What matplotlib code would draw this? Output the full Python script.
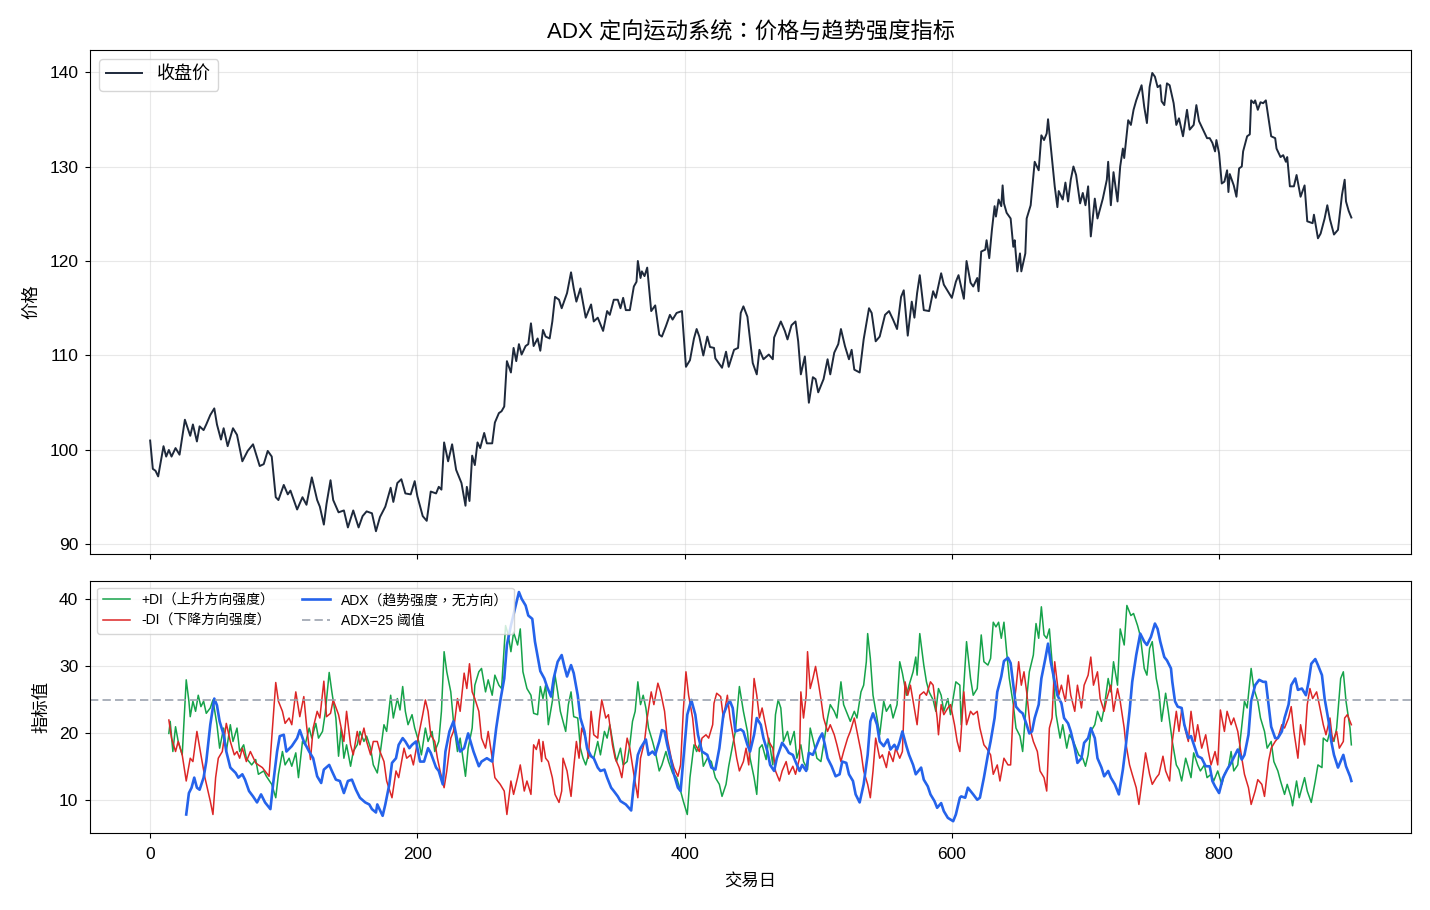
import matplotlib
matplotlib.use("Agg")
import matplotlib.pyplot as plt

plt.rcParams['font.family'] = ['Liberation Sans', 'Noto Sans CJK TC', 'DejaVu Sans']
plt.rcParams['axes.unicode_minus'] = False

# closing price (trading day, value)
price_days = [0, 2, 4, 6, 8, 10, 12, 14, 16, 19, 22, 26, 30, 32, 35, 37, 40, 42, 45, 48,
              50, 53, 55, 58, 62, 65, 69, 73, 77, 82, 85, 88, 91, 94, 96, 100, 103, 105, 110, 114,
              117, 121, 125, 127, 130, 132, 135, 137, 141, 145, 148, 152, 156, 159, 162, 166, 169, 172, 176, 180,
              182, 185, 188, 191, 195, 198, 200, 204, 207, 210, 214, 216, 218, 220, 223, 226, 229, 233, 236, 237,
              239, 241, 243, 245, 247, 250, 252, 256, 258, 261, 263, 265, 267, 270, 272, 274, 276, 278, 281, 283,
              285, 287, 290, 292, 294, 296, 299, 301, 303, 306, 308, 312, 315, 317, 319, 322, 326, 330, 332, 335,
              339, 342, 344, 347, 350, 352, 354, 356, 359, 362, 364, 365, 367, 368, 370, 372, 375, 378, 381, 383,
              386, 389, 391, 394, 398, 401, 404, 407, 409, 411, 414, 417, 419, 422, 423, 428, 431, 433, 437, 440,
              442, 444, 447, 451, 454, 456, 459, 463, 466, 467, 472, 475, 477, 480, 483, 485, 487, 490, 493, 496,
              498, 500, 504, 507, 509, 512, 515, 517, 520, 523, 525, 527, 531, 534, 538, 540, 543, 546, 550, 553,
              556, 559, 562, 564, 567, 570, 572, 574, 576, 579, 583, 586, 588, 592, 594, 597, 600, 603, 605, 609,
              611, 614, 616, 619, 620, 622, 625, 626, 628, 630, 632, 633, 635, 637, 638, 639, 641, 644, 646, 647,
              649, 651, 652, 655, 656, 659, 662, 665, 667, 669, 671, 672, 675, 677, 679, 680, 683, 685, 687, 689,
              691, 693, 696, 698, 700, 702, 704, 707, 709, 713, 716, 717, 719, 721, 724, 726, 728, 729, 732, 734,
              736, 738, 742, 744, 746, 748, 750, 752, 754, 756, 757, 759, 761, 763, 766, 768, 770, 773, 776, 778,
              781, 783, 785, 788, 791, 793, 795, 797, 798, 800, 802, 804, 806, 807, 808, 811, 813, 815, 817, 818,
              821, 823, 824, 826, 827, 829, 831, 833, 835, 837, 839, 842, 843, 846, 848, 850, 851, 853, 856, 858,
              861, 864, 866, 870, 871, 874, 876, 879, 881, 883, 886, 889, 892, 894, 895, 897, 899]
price_vals = [101.0, 98.0, 97.8, 97.2, 98.8, 100.4, 99.3, 100.0, 99.3, 100.2, 99.5, 103.2, 101.5, 102.7, 100.9, 102.5, 102.1, 102.7, 103.7, 104.4,
              102.7, 101.1, 102.3, 100.4, 102.3, 101.6, 98.8, 99.9, 100.6, 98.3, 98.5, 99.9, 99.3, 95.0, 94.7, 96.3, 95.3, 95.7, 93.7, 95.0,
              94.2, 97.1, 94.7, 94.0, 92.1, 94.3, 96.8, 94.7, 93.4, 93.6, 91.8, 93.6, 91.8, 93.0, 93.5, 93.3, 91.4, 92.9, 94.0, 96.0,
              94.5, 96.5, 96.9, 95.4, 95.3, 96.7, 95.1, 93.0, 92.5, 95.6, 95.4, 96.1, 95.8, 100.8, 98.8, 100.6, 97.9, 96.5, 94.1, 96.1,
              94.6, 99.4, 98.4, 100.8, 100.2, 101.8, 100.7, 100.7, 102.9, 103.9, 104.1, 104.6, 109.4, 108.2, 110.8, 109.4, 111.2, 110.1, 111.0, 111.2,
              113.4, 111.0, 111.8, 110.5, 112.7, 112.0, 111.8, 113.6, 116.2, 115.9, 115.0, 116.6, 118.8, 117.1, 115.7, 117.1, 114.0, 115.4, 113.6, 114.0,
              112.6, 114.7, 114.3, 115.9, 115.9, 115.0, 116.1, 114.8, 114.8, 117.3, 117.8, 120.0, 118.2, 118.9, 118.4, 119.3, 114.7, 115.3, 112.2, 112.0,
              113.1, 114.3, 113.8, 114.5, 114.7, 108.8, 109.5, 111.8, 112.8, 112.0, 110.0, 112.0, 110.9, 110.8, 109.7, 108.7, 110.4, 108.8, 110.6, 110.8,
              114.5, 115.2, 114.1, 109.2, 108.0, 110.6, 109.6, 110.1, 109.6, 111.9, 113.6, 112.6, 111.7, 113.2, 113.6, 111.5, 108.0, 109.9, 105.0, 107.7,
              107.5, 106.1, 107.5, 109.6, 108.0, 110.3, 111.2, 112.8, 111.0, 109.6, 110.6, 108.5, 108.2, 111.7, 115.0, 114.5, 111.5, 112.0, 114.3, 114.7,
              113.8, 112.8, 116.2, 116.9, 112.1, 115.7, 114.0, 116.6, 118.5, 114.8, 114.7, 116.8, 116.1, 118.7, 117.5, 116.8, 116.1, 117.8, 118.5, 116.0,
              120.0, 117.7, 117.3, 118.2, 116.8, 121.0, 121.2, 122.2, 120.3, 123.3, 125.8, 124.7, 126.5, 125.8, 128.0, 126.1, 125.1, 124.5, 121.5, 122.2,
              118.9, 120.8, 118.9, 120.8, 124.5, 125.9, 130.5, 129.6, 133.3, 132.8, 133.5, 135.0, 130.7, 127.9, 125.7, 127.4, 126.5, 128.3, 126.3, 128.6,
              130.0, 129.1, 126.1, 127.2, 125.9, 127.9, 122.6, 126.6, 124.5, 126.6, 128.6, 130.5, 125.9, 129.4, 126.3, 130.0, 131.9, 130.9, 134.9, 134.4,
              136.0, 137.0, 138.6, 136.3, 134.6, 138.4, 139.9, 139.5, 138.4, 138.6, 136.9, 136.5, 138.8, 138.6, 136.7, 134.4, 135.1, 133.2, 136.0, 133.9,
              134.4, 136.5, 134.8, 133.9, 133.0, 133.0, 132.5, 131.6, 132.8, 131.4, 128.2, 128.4, 129.6, 127.3, 129.2, 128.0, 126.8, 129.8, 130.0, 131.6,
              133.2, 133.4, 137.0, 136.7, 137.0, 136.0, 136.8, 136.7, 137.0, 135.1, 133.2, 133.0, 131.9, 131.0, 131.2, 130.5, 131.0, 127.9, 127.9, 129.1,
              126.8, 128.0, 124.2, 124.0, 124.9, 122.4, 122.9, 124.5, 125.9, 124.4, 122.8, 123.3, 127.0, 128.6, 126.3, 125.3, 124.6]

# +DI
pdi_days = [14, 15, 17, 19, 21, 24, 27, 29, 30, 32, 34, 36, 38, 40, 42, 45, 47, 50, 52, 55,
            57, 60, 62, 65, 67, 70, 72, 76, 79, 81, 85, 87, 91, 94, 96, 99, 101, 104, 106, 109,
            111, 114, 116, 119, 121, 124, 126, 129, 131, 134, 136, 139, 141, 143, 145, 147, 150, 152, 155, 157,
            160, 162, 165, 167, 170, 172, 175, 177, 180, 182, 185, 187, 189, 191, 193, 196, 198, 201, 203, 206,
            208, 211, 213, 216, 218, 220, 222, 225, 227, 230, 232, 236, 238, 241, 243, 246, 248, 251, 253, 256,
            258, 261, 263, 266, 268, 270, 272, 275, 277, 279, 282, 285, 287, 290, 292, 294, 296, 298, 301, 303,
            305, 307, 311, 313, 315, 317, 320, 322, 324, 326, 328, 332, 335, 337, 340, 342, 344, 347, 349, 352,
            354, 357, 359, 361, 363, 365, 367, 369, 371, 373, 376, 378, 381, 383, 386, 388, 391, 394, 397, 399,
            402, 404, 407, 409, 412, 414, 417, 420, 423, 426, 428, 431, 433, 436, 438, 441, 444, 447, 449, 452,
            454, 456, 458, 461, 463, 466, 468, 470, 472, 474, 477, 479, 482, 484, 487, 489, 492, 494, 497, 499,
            502, 504, 507, 509, 512, 514, 517, 519, 522, 524, 527, 529, 532, 534, 536, 537, 539, 541, 544, 546,
            549, 551, 554, 556, 559, 561, 563, 566, 568, 571, 573, 574, 576, 579, 581, 583, 586, 588, 590, 592,
            594, 597, 599, 601, 603, 606, 607, 609, 611, 614, 616, 619, 622, 624, 627, 629, 631, 633, 635, 637,
            639, 641, 643, 646, 648, 651, 653, 656, 658, 661, 663, 665, 667, 669, 671, 673, 676, 678, 681, 683,
            686, 688, 691, 693, 695, 698, 700, 702, 704, 707, 709, 712, 714, 717, 719, 721, 724, 726, 729, 731,
            734, 736, 739, 741, 744, 746, 748, 750, 753, 755, 757, 760, 762, 764, 765, 768, 770, 772, 775, 777,
            779, 781, 784, 786, 789, 791, 794, 796, 799, 802, 804, 807, 809, 811, 814, 816, 819, 821, 824, 826,
            829, 831, 834, 836, 839, 841, 844, 846, 849, 851, 854, 855, 858, 860, 864, 866, 869, 872, 874, 877,
            878, 881, 883, 886, 888, 891, 893, 895, 898, 899]
pdi_vals = [20.0, 21.8, 17.3, 21.0, 18.8, 16.8, 28.0, 24.8, 22.5, 24.8, 23.3, 25.7, 24.0, 24.8, 23.0, 23.8, 25.0, 21.3, 17.8, 20.8,
            17.3, 21.3, 18.8, 20.8, 17.3, 18.3, 16.3, 15.3, 16.1, 13.9, 14.4, 13.6, 12.4, 10.4, 13.9, 17.3, 15.3, 16.3, 15.1, 17.1,
            13.4, 18.8, 18.3, 20.8, 19.3, 21.5, 19.3, 20.3, 23.0, 29.1, 26.2, 22.3, 16.6, 20.8, 16.3, 18.3, 15.1, 17.3, 18.3, 20.3,
            18.8, 19.6, 17.8, 15.3, 14.1, 16.8, 21.3, 20.3, 25.7, 22.3, 25.2, 23.5, 27.0, 23.3, 21.3, 22.8, 20.8, 18.8, 16.8, 20.8,
            18.8, 20.3, 17.3, 18.8, 23.3, 32.2, 29.2, 26.2, 21.8, 17.3, 19.3, 13.6, 17.8, 20.8, 27.2, 29.2, 29.7, 26.2, 28.0, 25.7,
            28.7, 27.2, 26.7, 36.1, 34.7, 32.2, 35.1, 33.2, 35.6, 29.2, 26.7, 25.7, 23.0, 22.8, 27.0, 25.2, 27.2, 21.3, 24.8, 28.7,
            26.2, 23.3, 20.3, 24.3, 26.2, 22.5, 22.3, 17.8, 16.3, 15.3, 16.8, 16.3, 18.8, 16.8, 20.3, 19.3, 21.3, 17.8, 15.8, 17.8,
            15.3, 15.8, 18.3, 21.8, 23.3, 27.7, 24.3, 25.7, 23.8, 20.8, 18.8, 17.3, 14.4, 15.3, 17.3, 15.8, 14.1, 13.4, 11.4, 9.9,
            7.9, 13.4, 18.3, 17.3, 18.8, 15.1, 16.3, 15.8, 13.4, 12.4, 10.6, 12.4, 15.1, 18.3, 20.3, 27.0, 23.3, 20.3, 16.3, 13.4,
            10.9, 17.8, 18.3, 16.1, 19.3, 15.3, 22.8, 25.0, 23.8, 18.8, 20.3, 18.3, 20.3, 16.3, 18.3, 15.8, 14.6, 20.8, 18.3, 16.3,
            15.8, 18.3, 22.3, 24.3, 23.3, 22.3, 27.7, 24.3, 22.8, 21.8, 23.3, 22.3, 26.2, 27.2, 30.7, 34.9, 31.2, 25.7, 22.3, 19.8,
            24.8, 23.3, 24.3, 22.3, 24.3, 30.7, 29.0, 25.7, 27.2, 29.2, 31.4, 28.7, 34.9, 30.2, 27.7, 26.2, 25.0, 23.3, 26.7, 25.7,
            23.3, 25.2, 22.8, 25.2, 27.7, 27.2, 21.3, 27.2, 33.7, 28.2, 25.7, 26.7, 34.7, 30.7, 30.2, 31.2, 36.6, 35.9, 36.6, 34.2,
            36.6, 32.2, 28.2, 24.3, 20.8, 19.6, 17.3, 25.2, 29.2, 31.7, 36.4, 34.2, 38.9, 34.7, 34.2, 35.6, 28.2, 22.8, 19.3, 21.3,
            17.8, 19.8, 18.8, 17.8, 16.8, 16.3, 15.1, 16.8, 20.3, 21.3, 23.3, 21.8, 23.8, 28.2, 26.2, 30.7, 27.2, 35.6, 33.2, 39.1,
            37.6, 37.9, 36.1, 34.6, 29.7, 28.7, 32.7, 33.7, 28.2, 26.2, 21.8, 26.0, 23.3, 20.3, 18.8, 15.3, 14.6, 12.9, 16.3, 14.9,
            13.4, 17.1, 15.3, 14.4, 15.3, 13.4, 13.9, 12.9, 14.4, 12.4, 13.9, 14.9, 17.3, 14.4, 15.3, 19.3, 24.8, 23.8, 29.7, 26.7,
            24.8, 22.3, 20.3, 17.8, 18.8, 15.8, 14.4, 12.9, 10.9, 12.4, 10.4, 9.2, 12.9, 10.4, 13.4, 11.4, 9.7, 12.9, 15.3, 14.9,
            19.3, 18.8, 20.3, 18.8, 20.8, 28.2, 29.2, 24.8, 20.8, 18.3]

# -DI
mdi_days = [14, 16, 19, 21, 24, 27, 30, 32, 35, 38, 41, 45, 47, 49, 51, 54, 57, 60, 63, 65,
            67, 69, 72, 75, 79, 81, 84, 89, 91, 94, 96, 99, 101, 104, 106, 109, 112, 115, 117, 120,
            122, 125, 127, 130, 132, 135, 137, 141, 145, 147, 150, 152, 155, 157, 160, 162, 165, 167, 170, 172,
            175, 177, 181, 184, 186, 190, 192, 195, 197, 201, 204, 206, 208, 210, 213, 215, 217, 220, 222, 225,
            227, 230, 232, 235, 237, 239, 241, 243, 246, 248, 251, 253, 256, 258, 262, 265, 267, 270, 272, 275,
            277, 280, 282, 285, 287, 289, 291, 293, 294, 296, 298, 301, 303, 306, 308, 309, 312, 315, 317, 319,
            321, 323, 326, 328, 330, 332, 335, 336, 338, 341, 343, 346, 348, 351, 353, 357, 359, 362, 365, 367,
            370, 372, 375, 377, 380, 382, 385, 387, 390, 392, 395, 397, 399, 401, 403, 406, 408, 411, 413, 416,
            418, 421, 422, 424, 427, 429, 432, 434, 437, 439, 441, 444, 446, 448, 451, 452, 454, 456, 458, 461,
            463, 466, 468, 471, 473, 476, 478, 481, 483, 486, 487, 489, 491, 492, 494, 496, 498, 500, 502, 504,
            507, 509, 512, 514, 517, 519, 522, 524, 527, 529, 532, 534, 537, 539, 541, 543, 546, 548, 551, 553,
            556, 558, 561, 563, 565, 567, 569, 571, 574, 576, 579, 581, 584, 586, 589, 590, 592, 594, 597, 599,
            602, 604, 606, 609, 611, 614, 616, 619, 621, 624, 626, 629, 631, 634, 636, 639, 642, 644, 646, 648,
            650, 652, 654, 656, 659, 661, 664, 666, 669, 671, 673, 675, 677, 680, 682, 685, 687, 689, 692, 694,
            697, 699, 702, 704, 706, 709, 711, 714, 716, 719, 721, 724, 726, 729, 730, 733, 735, 738, 740, 742,
            745, 748, 750, 753, 755, 758, 760, 763, 765, 768, 770, 772, 775, 777, 779, 782, 784, 787, 790, 792,
            794, 797, 799, 801, 804, 806, 809, 811, 814, 817, 819, 822, 824, 827, 829, 832, 834, 837, 839, 842,
            844, 847, 849, 852, 854, 856, 859, 861, 864, 866, 868, 870, 873, 875, 878, 880, 883, 885, 888, 890,
            893, 894, 896, 898, 899]
mdi_vals = [22.0, 19.3, 17.3, 18.8, 16.8, 12.9, 16.3, 15.8, 20.3, 16.8, 13.4, 9.9, 7.9, 13.4, 16.3, 17.3, 21.5, 18.8, 16.8, 17.3,
            16.3, 17.8, 15.8, 17.3, 15.6, 15.3, 14.9, 13.6, 19.3, 27.6, 24.8, 23.3, 21.5, 22.3, 21.3, 26.2, 22.5, 25.5, 21.3, 16.1,
            20.8, 23.3, 22.3, 27.8, 22.5, 23.0, 25.0, 22.8, 18.8, 23.3, 18.3, 16.8, 20.3, 18.3, 20.8, 18.8, 16.8, 18.8, 18.8, 17.3,
            15.8, 12.9, 10.4, 14.4, 13.4, 17.8, 16.3, 16.8, 15.3, 19.8, 22.8, 25.0, 23.3, 19.8, 18.8, 16.3, 14.4, 11.9, 14.4, 19.3,
            20.3, 25.2, 23.3, 29.0, 26.7, 30.4, 26.2, 25.2, 23.3, 19.3, 17.8, 20.3, 16.3, 13.4, 12.4, 11.4, 7.9, 12.9, 10.9, 13.4,
            15.3, 11.4, 12.9, 10.9, 18.3, 17.6, 19.1, 15.8, 18.8, 16.3, 15.8, 13.4, 10.9, 9.7, 11.4, 16.3, 14.4, 10.6, 14.9, 18.8,
            16.3, 20.8, 19.3, 16.3, 23.3, 19.8, 19.3, 21.8, 25.0, 22.3, 22.8, 18.3, 16.3, 14.9, 13.4, 19.3, 17.8, 13.9, 10.4, 16.3,
            18.8, 22.3, 26.2, 24.3, 27.5, 26.2, 23.3, 19.3, 16.3, 14.9, 13.6, 15.3, 23.3, 29.2, 25.7, 22.3, 18.3, 17.3, 19.3, 19.8,
            19.3, 21.3, 24.5, 26.0, 25.5, 22.3, 25.7, 22.3, 18.8, 16.3, 14.4, 15.8, 17.8, 15.3, 24.3, 28.2, 25.7, 22.3, 23.8, 20.8,
            18.8, 17.8, 14.4, 12.9, 14.4, 15.8, 13.9, 15.1, 13.9, 16.3, 26.2, 22.3, 25.7, 32.2, 26.7, 28.2, 30.0, 27.7, 25.2, 22.3,
            20.3, 21.3, 19.8, 18.3, 15.8, 17.3, 19.3, 20.3, 22.3, 20.3, 17.3, 14.4, 12.4, 10.4, 14.4, 19.3, 16.3, 16.8, 14.9, 17.3,
            15.8, 17.8, 16.3, 17.3, 27.7, 25.7, 27.2, 24.8, 21.3, 25.7, 26.2, 25.7, 27.7, 27.2, 22.3, 19.8, 24.3, 22.8, 23.8, 24.3,
            21.3, 18.8, 17.3, 26.2, 21.3, 23.3, 22.8, 23.3, 20.8, 18.3, 17.8, 16.8, 13.9, 15.3, 12.9, 16.3, 15.3, 15.3, 23.8, 26.7,
            30.7, 27.2, 29.2, 26.2, 20.3, 18.8, 17.3, 14.4, 13.4, 11.4, 20.8, 22.3, 30.7, 25.7, 27.2, 24.8, 28.7, 25.7, 23.3, 27.2,
            23.8, 27.2, 28.7, 31.4, 27.2, 29.2, 25.2, 23.3, 25.2, 27.2, 23.3, 26.7, 24.8, 20.8, 18.8, 15.3, 13.9, 11.9, 9.4, 12.4,
            17.1, 13.9, 12.4, 13.4, 13.9, 16.6, 14.4, 12.9, 18.8, 23.3, 20.3, 23.5, 20.3, 18.8, 23.3, 18.8, 21.3, 17.8, 19.8, 17.3,
            15.3, 17.3, 15.3, 23.5, 20.3, 23.3, 21.3, 22.3, 20.3, 16.3, 13.9, 11.9, 9.4, 11.4, 13.1, 12.4, 10.6, 15.8, 17.8, 18.8,
            19.3, 21.3, 20.8, 22.3, 24.0, 20.3, 16.3, 21.3, 18.3, 24.3, 26.7, 25.2, 26.2, 24.3, 21.3, 19.8, 22.3, 18.8, 20.3, 17.8,
            18.8, 22.3, 22.8, 21.8, 21.3]

# ADX
adx_days = [27, 29, 31, 33, 35, 37, 40, 42, 45, 48, 50, 52, 55, 57, 60, 64, 66, 69, 71, 74,
            77, 80, 83, 86, 90, 92, 95, 97, 100, 102, 106, 110, 112, 115, 119, 122, 125, 128, 130, 134,
            136, 139, 142, 145, 148, 151, 154, 157, 161, 164, 166, 169, 170, 174, 176, 179, 181, 184, 186, 189,
            191, 194, 196, 199, 202, 205, 208, 210, 214, 216, 219, 221, 224, 227, 230, 232, 235, 238, 242, 246,
            248, 252, 256, 259, 262, 265, 267, 270, 273, 276, 278, 281, 283, 286, 288, 292, 295, 297, 300, 302,
            305, 308, 310, 312, 315, 317, 320, 322, 325, 327, 330, 332, 335, 337, 340, 342, 345, 347, 350, 352,
            356, 360, 362, 365, 367, 371, 373, 376, 378, 381, 383, 385, 387, 390, 392, 395, 397, 400, 402, 405,
            408, 410, 413, 417, 420, 423, 426, 429, 432, 434, 436, 438, 442, 444, 447, 449, 452, 454, 457, 459,
            462, 464, 467, 469, 473, 476, 478, 481, 483, 486, 488, 491, 493, 496, 498, 501, 503, 505, 507, 510,
            513, 516, 518, 521, 523, 526, 528, 531, 534, 537, 539, 541, 544, 546, 549, 552, 554, 557, 559, 561,
            563, 566, 568, 571, 573, 577, 579, 582, 584, 587, 589, 592, 594, 597, 601, 603, 606, 607, 610, 612,
            616, 619, 621, 624, 627, 629, 632, 634, 637, 639, 642, 644, 646, 648, 651, 653, 656, 658, 660, 662,
            665, 667, 670, 672, 674, 677, 679, 682, 684, 687, 689, 692, 694, 697, 699, 702, 704, 707, 709, 712,
            714, 717, 719, 722, 725, 728, 730, 733, 735, 738, 741, 744, 746, 749, 752, 754, 756, 759, 761, 764,
            765, 767, 769, 772, 774, 777, 779, 782, 784, 787, 790, 793, 795, 797, 800, 803, 806, 809, 812, 814,
            817, 819, 822, 824, 827, 830, 833, 835, 837, 839, 842, 844, 847, 849, 852, 854, 857, 859, 862, 865,
            867, 869, 872, 874, 877, 879, 882, 884, 886, 889, 893, 895, 898, 899]
adx_vals = [7.9, 11.1, 11.9, 13.4, 11.9, 11.6, 13.4, 15.8, 21.3, 25.2, 24.2, 21.8, 19.8, 17.3, 14.9, 14.1, 13.4, 13.9, 13.1, 11.4,
            10.6, 9.7, 10.9, 9.7, 8.7, 12.4, 17.3, 19.6, 19.8, 17.3, 18.1, 19.3, 20.5, 18.8, 17.3, 16.3, 13.6, 12.6, 14.6, 15.3,
            14.4, 13.1, 12.9, 11.1, 12.9, 13.1, 11.6, 10.4, 9.7, 9.4, 8.7, 8.2, 9.4, 7.7, 9.4, 12.4, 15.6, 16.3, 18.3, 19.3,
            18.8, 17.8, 18.3, 18.8, 15.8, 15.8, 17.8, 17.1, 14.9, 14.4, 12.4, 17.3, 20.3, 21.8, 18.8, 17.3, 17.8, 20.0, 17.3, 15.1,
            15.8, 16.3, 15.8, 20.8, 24.8, 28.2, 33.2, 36.1, 38.6, 41.1, 40.1, 39.1, 37.6, 37.1, 33.7, 29.3, 28.2, 27.0, 25.5, 28.2,
            30.7, 31.7, 30.0, 28.5, 30.2, 29.0, 25.7, 22.3, 20.3, 17.8, 16.6, 16.3, 14.9, 14.4, 14.6, 13.4, 11.9, 11.4, 10.6, 9.9,
            9.4, 8.5, 12.4, 16.8, 17.8, 19.1, 16.8, 17.3, 16.8, 18.8, 20.5, 20.3, 18.3, 15.8, 13.9, 11.9, 11.4, 18.3, 22.8, 25.0,
            22.8, 19.8, 17.3, 16.8, 14.9, 14.6, 17.8, 22.8, 24.3, 24.8, 23.8, 20.3, 20.6, 20.3, 18.3, 17.3, 19.8, 22.3, 21.3, 19.3,
            17.3, 15.3, 14.4, 16.3, 18.6, 17.8, 17.1, 16.8, 15.8, 14.4, 15.3, 14.4, 17.1, 16.8, 17.8, 19.3, 20.0, 18.3, 16.3, 15.1,
            13.6, 13.9, 15.8, 15.6, 13.9, 12.9, 10.9, 9.7, 12.4, 16.8, 21.8, 23.0, 21.3, 18.8, 18.1, 19.1, 17.6, 18.3, 17.6, 18.8,
            20.3, 18.1, 16.8, 15.3, 13.9, 14.9, 13.1, 12.1, 10.9, 9.9, 8.9, 9.6, 8.4, 7.4, 6.9, 7.9, 10.4, 10.6, 10.4, 11.9,
            10.9, 10.1, 10.4, 13.4, 16.8, 18.8, 22.3, 26.2, 28.5, 30.8, 31.3, 30.5, 27.2, 24.0, 23.3, 23.0, 21.3, 20.0, 20.3, 22.3,
            24.3, 28.2, 31.2, 33.4, 30.7, 27.7, 25.7, 24.5, 22.3, 21.5, 20.3, 17.8, 15.6, 16.3, 18.6, 19.3, 20.8, 19.3, 16.3, 14.9,
            13.6, 14.4, 13.4, 12.4, 10.9, 14.6, 17.8, 23.3, 27.7, 31.7, 34.9, 33.7, 33.2, 34.4, 36.4, 35.6, 33.7, 31.4, 30.9, 29.7,
            27.7, 24.8, 24.0, 23.8, 21.3, 19.3, 19.6, 17.8, 16.6, 16.3, 15.1, 15.1, 12.9, 12.1, 11.1, 13.4, 14.6, 15.6, 16.8, 17.6,
            16.1, 16.8, 19.8, 24.8, 27.2, 28.0, 27.7, 27.7, 24.3, 21.0, 19.3, 19.3, 20.3, 22.3, 24.3, 27.2, 28.2, 26.5, 26.7, 25.7,
            27.7, 30.4, 31.1, 30.2, 28.7, 25.2, 21.8, 18.8, 16.8, 14.9, 16.8, 15.1, 13.6, 12.9]

adx_threshold = 25


def draw_chart():
    fig, (ax1, ax2) = plt.subplots(2, 1, figsize=(14.3, 9.1), dpi=100, sharex=True,
                                   gridspec_kw={'height_ratios': [2, 1]})
    fig.subplots_adjust(left=0.063, right=0.987, top=0.945, bottom=0.085, hspace=0.07)

    # price panel
    ax1.plot(price_days, price_vals, color='#1e293b', linewidth=1.4, label='收盘价')
    ax1.set_ylabel('价格', fontsize=12.5, labelpad=7)
    ax1.set_title('ADX 定向运动系统：价格与趋势强度指标', fontsize=16, pad=8)
    ax1.grid(True, color='#cccccc', alpha=0.45, linewidth=0.8)
    ax1.legend(loc='upper left', fontsize=13)
    ax1.tick_params(labelsize=12.5)
    ax1.tick_params(axis='y', pad=5)

    # indicator panel
    ax2.plot(pdi_days, pdi_vals, color='#16a34a', linewidth=1.1, label='+DI（上升方向强度）')
    ax2.plot(mdi_days, mdi_vals, color='#dc2626', linewidth=1.1, label='-DI（下降方向强度）')
    ax2.plot(adx_days, adx_vals, color='#2563eb', linewidth=1.9, label='ADX（趋势强度，无方向）')
    ax2.axhline(adx_threshold, color='#9ca3af', linestyle=(0, (5, 2.5)), linewidth=1.2,
                label='ADX=25 阈值')
    ax2.set_ylabel('指标值', fontsize=12.5, labelpad=7)
    ax2.set_xlabel('交易日', fontsize=12.5, labelpad=8)
    ax2.set_yticks([10, 20, 30, 40])
    ax2.grid(True, color='#cccccc', alpha=0.45, linewidth=0.8)
    ax2.legend(loc='upper left', ncol=2, fontsize=10)
    ax2.tick_params(labelsize=12.5)
    ax2.tick_params(axis='x', pad=7)
    ax2.tick_params(axis='y', pad=5)

    plt.savefig('out.png', dpi=100)


if __name__ == "__main__":
    draw_chart()
